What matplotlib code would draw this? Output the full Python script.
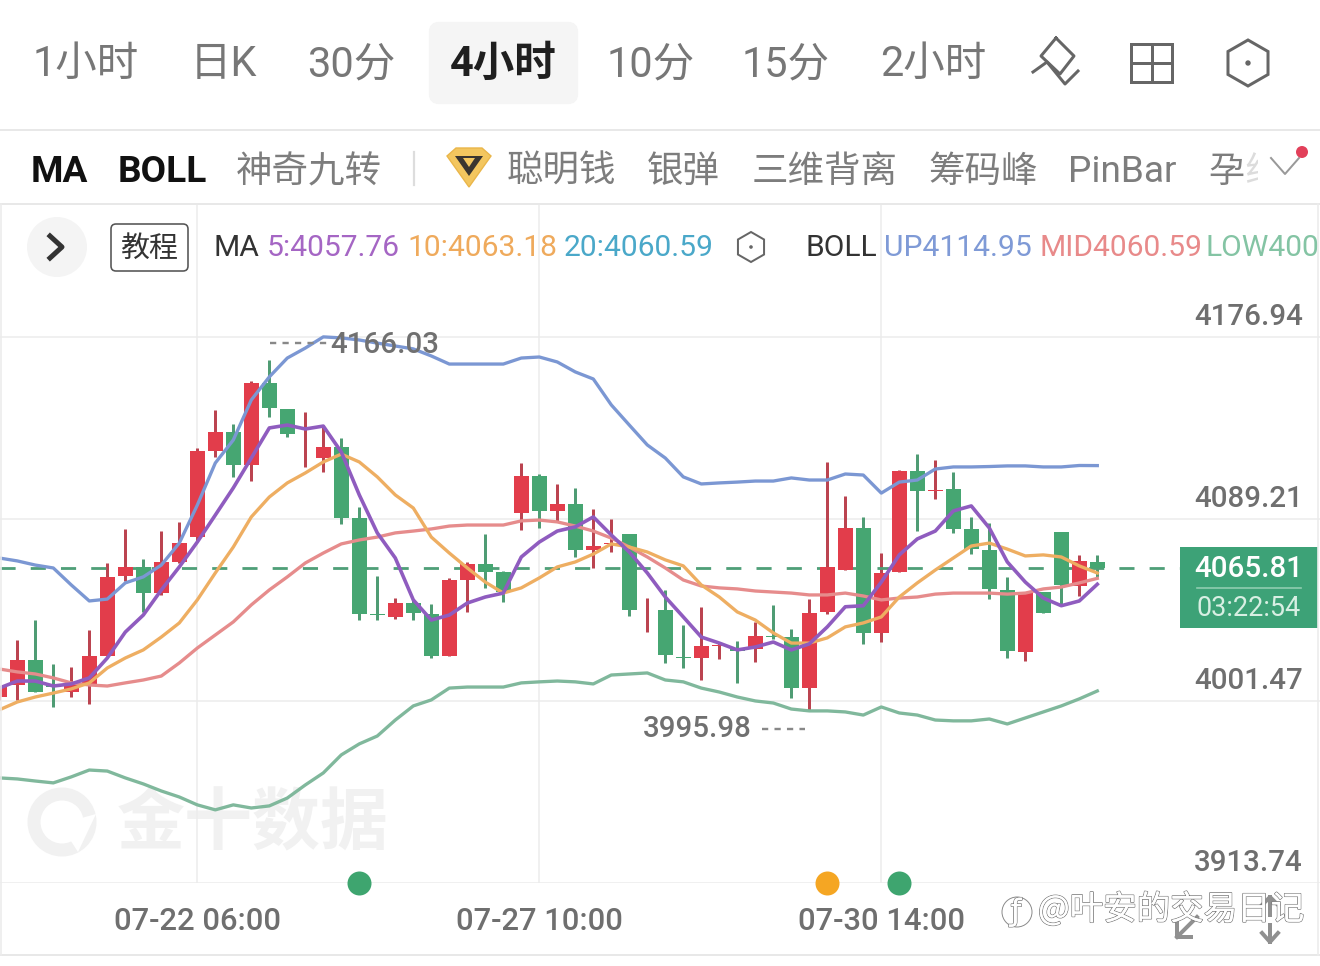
import matplotlib
matplotlib.use("Agg")
import matplotlib.pyplot as plt
import matplotlib.patheffects as pe
from matplotlib.patches import FancyBboxPatch, Rectangle, Circle, Polygon
from matplotlib.transforms import ScaledTranslation

W, H = 1320, 966
LATIN = ['Roboto', 'Noto Sans CJK SC', 'DejaVu Sans']
CJK = ['Noto Sans CJK SC', 'DejaVu Sans']
NUM = ['Roboto', 'DejaVu Sans']

# ---- data ----
opens = [4003.4,4009.2,4021.3,4009.2,4005.8,4009.2,4023.2,4061.7,4066.1,4053.5,4068.5,4080.5,4122.0,4131.2,4115.2,4154.8,4142.2,4117.9,4118.6,4123.9,4089.7,4043.4,4042.0,4048.7,4043.4,4023.2,4059.8,4067.5,4063.7,4092.1,4109.9,4093.1,4096.4,4074.3,4077.2,4082.0,4045.1,4045.4,4022.7,4022.2,4028.0,4026.6,4026.6,4032.8,4032.3,4007.7,4044.4,4064.6,4084.9,4034.3,4063.7,4112.4,4102.7,4103.7,4084.4,4074.3,4055.0,4025.1,4054.0,4083.0,4056.9,4068.5]
highs = [4008.2,4030.9,4040.5,4019.3,4017.9,4035.7,4068.0,4084.4,4069.9,4083.4,4087.8,4123.4,4141.8,4135.0,4155.7,4166.03,4142.2,4140.8,4133.6,4128.3,4095.0,4061.7,4051.1,4050.6,4048.2,4060.8,4068.5,4082.0,4064.2,4116.2,4110.9,4106.1,4104.2,4094.0,4089.2,4082.0,4051.1,4055.0,4038.1,4047.0,4029.4,4030.4,4039.6,4047.9,4036.2,4050.6,4116.7,4100.3,4090.2,4072.8,4112.8,4120.5,4117.7,4111.9,4090.2,4087.3,4061.3,4053.5,4054.0,4083.0,4071.9,4071.9]
lows = [4002.0,4002.0,4005.8,3998.6,4003.4,4000.0,4023.2,4059.3,4044.4,4052.6,4068.0,4078.1,4119.1,4109.5,4107.5,4138.4,4128.7,4114.3,4111.9,4086.8,4040.5,4040.5,4041.0,4040.5,4022.2,4023.2,4044.4,4056.0,4049.2,4083.9,4084.9,4087.8,4070.9,4065.6,4073.3,4042.5,4034.7,4019.8,4017.4,4011.6,4021.7,4010.2,4020.3,4031.4,4002.9,3997.0,4043.4,4064.6,4029.0,4029.9,4063.7,4083.4,4098.8,4082.5,4072.3,4050.6,4022.2,4020.8,4043.9,4047.3,4052.1,4061.3]
closes = [4008.2,4021.3,4005.8,4008.2,4009.7,4023.2,4061.3,4066.1,4053.5,4068.5,4077.6,4122.0,4131.2,4115.2,4154.8,4142.7,4130.2,4118.1,4123.9,4089.7,4043.4,4042.9,4048.7,4043.9,4023.2,4059.8,4067.5,4063.7,4054.0,4109.9,4093.1,4096.4,4074.3,4076.2,4077.6,4045.4,4045.4,4023.7,4022.2,4028.0,4028.5,4025.6,4032.8,4032.3,4007.7,4043.9,4066.1,4084.9,4034.3,4063.2,4112.4,4102.7,4103.2,4084.4,4074.7,4055.5,4025.6,4053.5,4043.9,4057.4,4069.0,4065.81]
boll_up = [4070.4,4069.0,4067.0,4065.6,4057.4,4049.7,4050.6,4058.4,4061.3,4067.0,4077.6,4095.9,4116.2,4127.3,4146.6,4157.7,4166.8,4171.6,4177.0,4176.5,4175.5,4174.0,4172.6,4171.2,4167.8,4163.9,4163.9,4163.9,4163.9,4166.8,4167.3,4164.9,4160.1,4156.7,4144.2,4134.5,4124.9,4118.6,4109.5,4106.1,4106.6,4107.0,4107.5,4107.5,4109.0,4108.0,4108.0,4110.9,4110.4,4101.7,4107.0,4108.0,4113.3,4114.3,4114.3,4114.5,4114.8,4114.8,4114.3,4114.3,4115.0,4114.95]
boll_mid = [4016.9,4015.5,4014.5,4012.6,4010.2,4009.2,4008.7,4010.2,4011.6,4013.5,4019.8,4027.0,4033.3,4039.6,4047.8,4055.0,4061.3,4068.0,4072.8,4077.2,4079.1,4080.5,4082.5,4083.4,4084.4,4085.8,4086.3,4086.3,4086.3,4088.3,4088.7,4087.8,4085.8,4083.4,4080.0,4075.7,4070.9,4065.6,4059.8,4056.9,4056.0,4055.5,4054.5,4054.0,4053.5,4052.6,4052.6,4053.5,4052.1,4050.2,4051.1,4051.6,4053.0,4053.5,4053.5,4053.5,4053.0,4053.5,4055.5,4056.4,4058.4,4060.59]
boll_low = [3964.4,3963.9,3962.9,3962.0,3964.9,3968.2,3967.7,3964.4,3961.5,3958.1,3955.2,3951.4,3949.0,3951.4,3949.9,3950.9,3954.7,3961.0,3966.8,3975.5,3980.8,3984.6,3992.3,3999.1,4002.0,4007.7,4008.2,4008.2,4008.2,4010.2,4010.7,4011.1,4010.7,4009.7,4014.0,4014.5,4015.0,4011.6,4010.7,4007.7,4005.8,4003.4,4001.5,4000.5,3997.6,3996.7,3996.7,3996.2,3994.7,3998.6,3995.7,3994.7,3992.3,3991.9,3991.9,3992.8,3990.4,3993.3,3996.2,3999.1,4002.5,4006.3]
ma5 = [4007.7,4011.1,4011.1,4008.7,4009.7,4012.6,4022.2,4034.7,4042.9,4055.0,4066.1,4078.1,4091.1,4104.2,4118.6,4133.1,4134.5,4132.6,4134.0,4121.5,4100.8,4082.5,4070.4,4050.2,4040.5,4042.9,4048.7,4051.6,4053.5,4070.9,4078.1,4083.4,4085.4,4090.2,4081.5,4073.3,4063.2,4051.6,4042.0,4032.3,4029.4,4026.1,4027.5,4029.9,4026.1,4029.0,4037.2,4046.9,4047.4,4058.8,4071.9,4079.6,4083.4,4093.1,4095.5,4084.9,4068.5,4058.8,4051.1,4047.4,4049.7,4057.76]
ma10 = [3997.2,4001.0,4003.4,4005.3,4007.3,4010.2,4017.4,4022.2,4026.1,4032.3,4039.1,4050.2,4063.2,4075.7,4090.2,4099.8,4106.6,4111.4,4116.7,4120.5,4116.7,4109.5,4100.8,4094.5,4080.5,4072.8,4065.6,4058.8,4053.5,4056.0,4060.8,4066.1,4068.5,4072.3,4077.2,4075.7,4073.3,4069.5,4066.6,4057.4,4051.6,4044.4,4040.5,4034.3,4029.4,4029.4,4031.9,4037.2,4039.1,4042.0,4051.6,4058.4,4064.6,4070.4,4076.2,4077.6,4074.7,4071.4,4071.9,4070.9,4066.6,4063.18]
price_ticks = [4176.94, 4089.21, 4001.47, 3913.74]
price_labels = ['4176.94', '4089.21', '4001.47', '3913.74']
time_index = [11, 30, 49]
time_labels = ['07-22 06:00', '07-27 10:00', '07-30 14:00']
event_green = [20, 50]
event_orange = [46]
last_price = 4065.81
countdown = '03:22:54'
period_tabs = ['1小时', '日K', '30分', '4小时', '10分', '15分', '2小时']
indicator_tabs = ['神奇九转', '聪明钱', '银弹', '三维背离', '筹码峰', 'PinBar']

# ---- colours ----
RED = '#e23d4b'; GREEN = '#46a672'
RED_W = '#bb4450'; GREEN_W = '#4f9c74'
C_UP = '#7b97d3'; C_MID = '#e68c8c'; C_LOW = '#80b89c'
C_5 = '#8f5cbf'; C_10 = '#eeae62'

fig = plt.figure(figsize=(W/100, H/100), dpi=100, facecolor='white')
px = lambda p: p * 0.72

def overlay(z):
    a = fig.add_axes([0, 0, 1, 1], zorder=z)
    a.set_xlim(0, W); a.set_ylim(H, 0); a.axis('off')
    return a

under = overlay(0)
over = overlay(3)

# ---- main chart (pixel band y 205..883) ----
ax = fig.add_axes([0, (H-883)/H, 1, (883-205)/H], zorder=1)
ax.patch.set_alpha(0)
per_px = (price_ticks[0] - price_ticks[3]) / 546.0
ax.set_ylim(price_ticks[3], price_ticks[3] + 678*per_px)
ax.set_xlim(0.7/18, (W+0.7)/18)
for s in ax.spines.values():
    s.set_visible(False)
ax.set_yticks(price_ticks, price_labels)
ax.yaxis.tick_right()
ax.set_xticks(time_index, time_labels)
ax.grid(True, color='#ececec', lw=1.1)
ax.set_axisbelow(True)
ax.tick_params(axis='x', length=0, pad=px(24), labelsize=px(31), labelcolor='#6f6f6f')
ax.tick_params(axis='y', length=0, pad=px(-126), labelsize=px(29.5), labelcolor='#6f6f6f')
for lab in ax.get_xticklabels() + ax.get_yticklabels():
    lab.set_fontfamily(NUM)
    lab.set_fontweight('medium')
shift = ScaledTranslation(0, 23/100, fig.dpi_scale_trans)
for lab in ax.get_yticklabels():
    lab.set_transform(lab.get_transform() + shift)

xs = list(range(len(closes)))
for i in xs:
    up = closes[i] >= opens[i]
    ax.vlines(i, lows[i], highs[i], color=RED_W if up else GREEN_W, lw=px(3), zorder=2)
    ax.bar(i, abs(closes[i]-opens[i]), bottom=min(opens[i], closes[i]), width=14.6/18,
           color=RED if up else GREEN, zorder=3, linewidth=0)

ax.axhline(last_price, color='#4f9f78', lw=px(2.8), ls=(0, (5.4, 5.4)), zorder=2.5)
lw = px(3.3)
ax.plot(xs, boll_up, color=C_UP, lw=lw, zorder=4, solid_joinstyle='round')
ax.plot(xs, boll_low, color=C_LOW, lw=lw, zorder=4)
ax.plot(xs, boll_mid, color=C_MID, lw=lw, zorder=4)
ax.plot(xs, ma10, color=C_10, lw=lw, zorder=5)
ax.plot(xs, ma5, color=C_5, lw=px(3.6), zorder=6)
base = [price_ticks[3]]
ax.scatter(event_green, base*len(event_green), s=px(24)**2, color='#3ea56f', zorder=7, clip_on=False, linewidths=0)
ax.scatter(event_orange, base*len(event_orange), s=px(24)**2, color='#f5a623', zorder=7, clip_on=False, linewidths=0)

# ---- watermark under the chart ----
under.add_patch(Circle((62, 822), 28, fc='none', ec='#f1f1f1', lw=px(13)))
under.add_patch(Polygon([(60, 824), (96, 814), (78, 852)], fc='white', ec='none'))
under.text(253, 825, '金十数据', family=CJK, weight='bold', fontsize=px(68), color='#f1f1f1', ha='center', va='center')

# ---- frame rules ----
for y in (130, 204, 955):
    over.plot([0, W], [y, y], color='#e8e8e8', lw=1.4)
over.plot([1, 1], [204, 955], color='#ececec', lw=1.2)
over.plot([1318, 1318], [204, 955], color='#ececec', lw=1.2)

# ---- period tabs ----
under.add_patch(FancyBboxPatch((433, 26), 141, 74, boxstyle='round,pad=0,rounding_size=6', fc='#f5f5f5', ec='#f5f5f5', lw=6))
for t, x in zip(period_tabs, [86, 223, 351, 503, 651, 786, 933]):
    active = t == '4小时'
    over.text(x, 64.5, t, family=LATIN, fontsize=px(41.5), ha='center', va='center',
              color='#1f1f1f' if active else '#777777', weight='bold' if active else 'normal')

ic = '#666666'
over.plot([1056, 1041, 1060, 1074, 1056], [38, 56, 74, 56, 38], color=ic, lw=px(3))
over.plot([1033, 1047, 1065, 1078], [72, 62, 84, 71], color=ic, lw=px(3))
over.add_patch(Rectangle((1131, 44), 41, 38, fc='none', ec=ic, lw=px(3)))
over.plot([1151.5, 1151.5], [44, 82], color=ic, lw=px(3))
over.plot([1131, 1172], [63, 63], color=ic, lw=px(3))

def hexagon(cx, cy, r, w):
    over.add_patch(Polygon([(cx, cy-r), (cx+r*.87, cy-r/2), (cx+r*.87, cy+r/2), (cx, cy+r), (cx-r*.87, cy+r/2), (cx-r*.87, cy-r/2)],
                           fc='none', ec=ic, lw=px(w)))
    over.add_patch(Circle((cx, cy), w*0.9, fc=ic, ec='none'))
hexagon(1248, 63, 23, 3)

# ---- indicator row ----
over.text(31, 172, 'MA', family=LATIN, weight='bold', fontsize=px(37), color='#111111', va='center')
over.text(118, 172, 'BOLL', family=LATIN, weight='bold', fontsize=px(37), color='#111111', va='center')
g = '#7d7d7d'
over.text(236, 172, indicator_tabs[0], family=CJK, fontsize=px(36.5), color=g, va='center')
over.plot([414, 414], [152, 185], color='#dddddd', lw=1.6)
over.add_patch(Polygon([(447, 156), (456, 148), (482, 148), (491, 156), (469, 187)], fc='#f3c65f', ec='#eab64a', lw=1))
over.add_patch(Polygon([(455, 156), (483, 156), (469, 176)], fc='#3a3530', ec='none'))
over.add_patch(Polygon([(463, 158), (475, 158), (469, 167)], fc='#f3c65f', ec='none'))
for t, x in zip(indicator_tabs[1:5], [507, 647, 752, 928]):
    over.text(x, 172, t, family=CJK, fontsize=px(36.5), color=g, va='center')
over.text(1068, 172, indicator_tabs[5], family=LATIN, fontsize=px(37), color=g, va='center')
over.text(1208, 172, '孕', family=CJK, fontsize=px(36), color=g, va='center')
over.text(1244, 172, '线', family=CJK, fontsize=px(36), color='#dcdcdc', va='center')
over.add_patch(Rectangle((1258, 140), 62, 58, fc='white', ec='none', zorder=5))
over.plot([1271, 1285, 1299], [158, 174, 158], color='#999999', lw=px(2), zorder=6)
over.add_patch(Circle((1302, 152), 6, fc='#e2405a', ec='none', zorder=6))

# ---- legend row ----
over.add_patch(Circle((57, 247), 30, fc='#f4f4f4', ec='none'))
over.plot([50, 62, 50], [236, 247, 258], color='#333333', lw=px(5))
over.add_patch(FancyBboxPatch((111, 224), 77, 47, boxstyle='round,pad=0,rounding_size=5', fc='white', ec='#555555', lw=px(1.6)))
over.text(149, 249, '教程', family=CJK, fontsize=px(29), color='#333333', ha='center', va='center')
fs = px(30)
legend_row = [('MA', 213, '#333333'), ('5:4057.76', 267, '#a566c4'), ('10:4063.18', 407, '#efaa5c'),
              ('20:4060.59', 564, '#4aa8c9'), ('BOLL', 806, '#333333'), ('UP4114.95', 884, '#7f9ad6'),
              ('MID4060.59', 1040, '#e88a8a'), ('LOW400', 1206, '#84c4a4')]
for t, x, c in legend_row:
    over.text(x, 248, t, family=LATIN, fontsize=fs, color=c, va='center')
hexagon(751, 247, 15, 2)

# ---- high / low annotations ----
d = '#707070'
over.plot([270, 327], [343, 343], color='#888888', lw=px(2.4), ls=(0, (2.6, 2.6)))
over.text(330, 345, '4166.03', family=NUM, weight='medium', fontsize=px(29.5), color=d, va='center')
over.text(643, 729, '3995.98', family=NUM, weight='medium', fontsize=px(29.5), color=d, va='center')
over.plot([762, 805], [729, 729], color='#888888', lw=px(2.4), ls=(0, (2.6, 2.6)))

# ---- current price box ----
over.add_patch(Rectangle((1180, 547), 138, 81, fc='#3da277', ec='none'))
over.plot([1197, 1301], [588, 588], color='#8fcdb0', lw=1.2)
over.text(1249, 569, f'{last_price:.2f}', family=NUM, weight='medium', fontsize=px(29.5), color='white', ha='center', va='center')
over.text(1249, 609, countdown, family=NUM, fontsize=px(27), color='#d8efe3', ha='center', va='center')

# ---- corner arrows and signature ----
a = '#909090'
over.plot([1177, 1197], [937, 917], color=a, lw=px(4))
over.plot([1177, 1177, 1191], [923, 937, 937], color=a, lw=px(4))
over.plot([1270, 1270], [925, 942], color=a, lw=px(4))
over.plot([1262, 1270, 1278], [933, 942, 933], color=a, lw=px(4))
over.plot([1270, 1270], [897, 915], color=a, lw=px(4))
over.plot([1262, 1270, 1278], [905, 897, 905], color=a, lw=px(4))
stroke = [pe.withStroke(linewidth=1.1, foreground='#777777'), pe.Normal()]
over.text(1038, 910, '@叶安的交易日记', family=CJK, fontsize=px(33.5), color='white', va='center', path_effects=stroke)
over.text(1016, 912, 'ƒ', family=['DejaVu Sans'], fontsize=px(30), color='white', ha='center', va='center', path_effects=stroke)
over.add_patch(Circle((1017, 912), 15, fc='none', ec='#8a8a8a', lw=0.7))

fig.savefig('out.png', dpi=100, facecolor='white')
